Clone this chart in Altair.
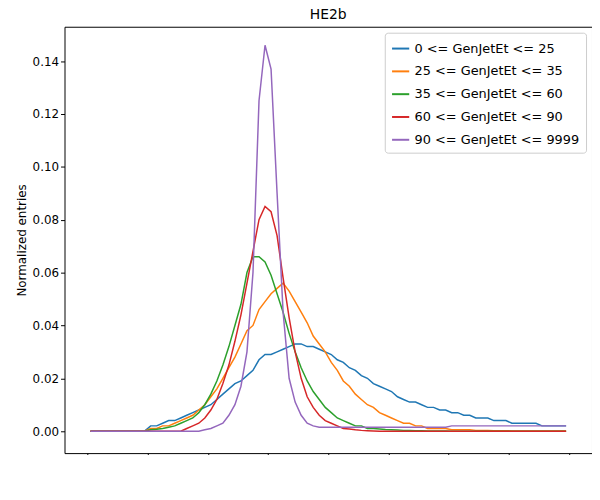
import numpy as np
import pandas as pd
import altair as alt

# bin centres of the L1JetEt / GenJetEt histogram
centers = [round(-1.475 + 0.05 * i, 3) for i in range(80)]

bins = ["0 <= GenJetEt <= 25", "25 <= GenJetEt <= 35", "35 <= GenJetEt <= 60",
        "60 <= GenJetEt <= 90", "90 <= GenJetEt <= 9999"]
colors = ["#1f77b4", "#ff7f0e", "#2ca02c", "#d62728", "#9467bd"]

blue = [0]*10 + [0.002, 0.002, 0.003, 0.004, 0.004, 0.005, 0.006, 0.007, 0.008, 0.009,
                 0.010, 0.012, 0.014, 0.016, 0.018, 0.019, 0.021, 0.023, 0.027, 0.029,
                 0.029, 0.030, 0.031, 0.032, 0.033, 0.033, 0.032, 0.032, 0.031, 0.030,
                 0.029, 0.027, 0.026, 0.024, 0.023, 0.021, 0.020, 0.018, 0.017, 0.016,
                 0.015, 0.013, 0.012, 0.011, 0.011, 0.010, 0.009, 0.009, 0.008, 0.008,
                 0.007, 0.007, 0.006, 0.006, 0.005, 0.005, 0.005, 0.004, 0.004, 0.004,
                 0.003, 0.003, 0.003, 0.003, 0.003, 0.002, 0.002, 0.002, 0.002, 0.002]
orange = [0]*10 + [0.001, 0.001, 0.002, 0.002, 0.003, 0.004, 0.005, 0.006, 0.008, 0.010,
                   0.013, 0.016, 0.020, 0.024, 0.028, 0.033, 0.038, 0.040, 0.046, 0.049,
                   0.052, 0.054, 0.056, 0.053, 0.049, 0.045, 0.041, 0.036, 0.033, 0.030,
                   0.026, 0.023, 0.019, 0.017, 0.014, 0.012, 0.010, 0.009, 0.007, 0.006,
                   0.005, 0.004, 0.003, 0.003, 0.002, 0.002, 0.001, 0.001, 0.001, 0.001,
                   0.0005, 0.0005, 0.0005, 0.0005, 0.0003, 0.0003, 0.0003, 0.0002, 0.0002, 0.0002,
                   0.0001, 0.0001, 0.0001, 0.0001, 0.0001, 0.0001, 0.0001, 0.0001, 0.0001, 0.0001]
green = [0]*10 + [0.0005, 0.0007, 0.001, 0.0015, 0.002, 0.003, 0.004, 0.005, 0.007, 0.010,
                  0.014, 0.019, 0.025, 0.032, 0.040, 0.048, 0.060, 0.066, 0.066, 0.064,
                  0.059, 0.052, 0.045, 0.037, 0.030, 0.024, 0.019, 0.015, 0.012, 0.009,
                  0.007, 0.005, 0.004, 0.003, 0.002, 0.002, 0.001, 0.001, 0.0008, 0.0006,
                  0.0005, 0.0004, 0.0003, 0.0003, 0.0002, 0.0002, 0.0001, 0.0001, 0.0001, 0.0001,
                  0, 0, 0, 0, 0, 0, 0, 0, 0, 0,
                  0, 0, 0, 0, 0, 0, 0, 0, 0, 0]
red = [0]*16 + [0.001, 0.002, 0.003, 0.005,
                0.008, 0.012, 0.018, 0.025, 0.034, 0.044, 0.056, 0.068, 0.080, 0.085,
                0.083, 0.074, 0.058, 0.043, 0.030, 0.020, 0.013, 0.009, 0.006, 0.004,
                0.003, 0.002, 0.001, 0.0008, 0.0005, 0.0003, 0.0002, 0.0001, 0, 0] + [0]*30
purple = [0]*19 + [0.0005,
                   0.001, 0.002, 0.003, 0.006, 0.010, 0.017, 0.030, 0.060, 0.125, 0.146,
                   0.137, 0.090, 0.045, 0.020, 0.011, 0.006, 0.003, 0.002, 0.0015, 0.0015] + [0.0015]*20 + [0.002]*20

series = [blue, orange, green, red, purple]
df = pd.concat([pd.DataFrame({"x": centers, "y": s, "bin": b}) for s, b in zip(series, bins)])

chart = alt.Chart(df).mark_line(strokeWidth=1.5).encode(
    x=alt.X("x:Q", title="L1JetEt / GenJetEt", scale=alt.Scale(domain=[-1.69, 2.69], nice=False),
            axis=alt.Axis(values=[-1.5, -1.0, -0.5, 0.0, 0.5, 1.0, 1.5, 2.0, 2.5], format=".1f")),
    y=alt.Y("y:Q", title="Normalized entries", scale=alt.Scale(domain=[-0.0083, 0.153], nice=False, zero=False),
            axis=alt.Axis(values=[0, 0.02, 0.04, 0.06, 0.08, 0.10, 0.12, 0.14], format=".2f")),
    color=alt.Color("bin:N", scale=alt.Scale(domain=bins, range=colors), title=None,
                    legend=alt.Legend(orient="top-right", strokeColor="#cccccc", fillColor="white",
                                      padding=6, cornerRadius=3, symbolType="stroke", offset=6,
                                      symbolStrokeWidth=2, labelFontSize=13, rowPadding=6,
                                      symbolSize=300, labelLimit=0)),
    order="bin:N",
).properties(
    width=532, height=430, title="HE2b",
    autosize=alt.AutoSizeParams(type="none"),
    padding={"left": 57, "top": 17, "right": 0, "bottom": 0},
).configure_view(stroke="black", strokeWidth=1).configure_axis(
    grid=False, domain=False, tickColor="black", labelColor="black", titleColor="black",
    labelFontSize=12, titleFontSize=12, titleFontWeight="normal", labelFont="DejaVu Sans",
    titleFont="DejaVu Sans", tickSize=4,
).configure_title(font="DejaVu Sans", fontSize=14, fontWeight="normal", offset=5).configure_legend(
    labelFont="DejaVu Sans")

chart.save("out.html", embed_options={"renderer": "svg", "actions": False})
